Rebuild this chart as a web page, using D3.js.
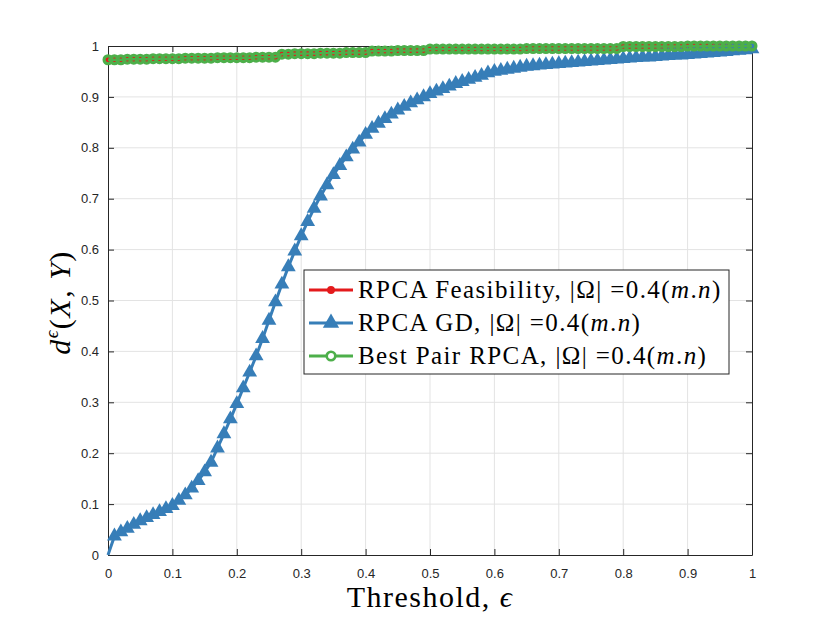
<!DOCTYPE html>
<html>
<head>
<meta charset="utf-8">
<script src="https://cdn.jsdelivr.net/npm/d3@7"></script>
<style>
  body { margin: 0; background: #fff; }
  svg { display: block; }
</style>
</head>
<body>
<div id="chart"></div>
<script>
// threshold values (x)
const thresholds = [
  0.00, 0.01, 0.02, 0.03, 0.04, 0.05, 0.06, 0.07, 0.08, 0.09,
  0.10, 0.11, 0.12, 0.13, 0.14, 0.15, 0.16, 0.17, 0.18, 0.19,
  0.20, 0.21, 0.22, 0.23, 0.24, 0.25, 0.26, 0.27, 0.28, 0.29,
  0.30, 0.31, 0.32, 0.33, 0.34, 0.35, 0.36, 0.37, 0.38, 0.39,
  0.40, 0.41, 0.42, 0.43, 0.44, 0.45, 0.46, 0.47, 0.48, 0.49,
  0.50, 0.51, 0.52, 0.53, 0.54, 0.55, 0.56, 0.57, 0.58, 0.59,
  0.60, 0.61, 0.62, 0.63, 0.64, 0.65, 0.66, 0.67, 0.68, 0.69,
  0.70, 0.71, 0.72, 0.73, 0.74, 0.75, 0.76, 0.77, 0.78, 0.79,
  0.80, 0.81, 0.82, 0.83, 0.84, 0.85, 0.86, 0.87, 0.88, 0.89,
  0.90, 0.91, 0.92, 0.93, 0.94, 0.95, 0.96, 0.97, 0.98, 0.99,
  1.00
];

const feasibility = [
  0.973, 0.973, 0.973, 0.974, 0.974, 0.974, 0.974, 0.975, 0.975, 0.975,
  0.975, 0.975, 0.976, 0.976, 0.976, 0.976, 0.976, 0.977, 0.977, 0.977,
  0.977, 0.977, 0.977, 0.978, 0.978, 0.978, 0.978, 0.984, 0.984, 0.985,
  0.985, 0.985, 0.985, 0.986, 0.986, 0.986, 0.986, 0.987, 0.987, 0.987,
  0.987, 0.990, 0.990, 0.990, 0.990, 0.991, 0.991, 0.991, 0.991, 0.991,
  0.994, 0.994, 0.994, 0.994, 0.994, 0.994, 0.994, 0.994, 0.994, 0.994,
  0.994, 0.994, 0.994, 0.994, 0.994, 0.995, 0.995, 0.995, 0.995, 0.995,
  0.995, 0.995, 0.995, 0.995, 0.995, 0.995, 0.995, 0.995, 0.995, 0.995,
  0.999, 0.999, 0.999, 0.999, 0.999, 0.999, 0.999, 0.999, 0.999, 0.999,
  1.000, 1.000, 1.000, 1.000, 1.000, 1.000, 1.000, 1.000, 1.000, 1.000,
  1.000
];

const gd = [
  0.000, 0.037, 0.045, 0.052, 0.060, 0.067, 0.073, 0.079, 0.085, 0.091,
  0.097, 0.107, 0.118, 0.131, 0.146, 0.163, 0.182, 0.210, 0.238, 0.267,
  0.297, 0.328, 0.359, 0.391, 0.425, 0.461, 0.497, 0.532, 0.566, 0.597,
  0.627, 0.655, 0.681, 0.705, 0.727, 0.747, 0.765, 0.782, 0.797, 0.811,
  0.826, 0.838, 0.848, 0.857, 0.866, 0.874, 0.881, 0.888, 0.894, 0.900,
  0.906, 0.911, 0.916, 0.921, 0.926, 0.930, 0.934, 0.938, 0.942, 0.947,
  0.950, 0.952, 0.954, 0.956, 0.958, 0.960, 0.961, 0.962, 0.963, 0.964,
  0.965, 0.966, 0.967, 0.968, 0.969, 0.970, 0.971, 0.972, 0.973, 0.974,
  0.975, 0.976, 0.977, 0.978, 0.978, 0.979, 0.980, 0.981, 0.982, 0.982,
  0.983, 0.984, 0.985, 0.986, 0.987, 0.988, 0.989, 0.990, 0.991, 0.992,
  0.994
];

const bestPair = [
  0.973, 0.973, 0.973, 0.974, 0.974, 0.974, 0.974, 0.975, 0.975, 0.975,
  0.975, 0.975, 0.976, 0.976, 0.976, 0.976, 0.976, 0.977, 0.977, 0.977,
  0.977, 0.977, 0.977, 0.978, 0.978, 0.978, 0.978, 0.984, 0.984, 0.985,
  0.985, 0.985, 0.985, 0.986, 0.986, 0.986, 0.986, 0.987, 0.987, 0.987,
  0.987, 0.990, 0.990, 0.990, 0.990, 0.991, 0.991, 0.991, 0.991, 0.991,
  0.994, 0.994, 0.994, 0.994, 0.994, 0.994, 0.994, 0.994, 0.994, 0.994,
  0.994, 0.994, 0.994, 0.994, 0.994, 0.995, 0.995, 0.995, 0.995, 0.995,
  0.995, 0.995, 0.995, 0.995, 0.995, 0.995, 0.995, 0.995, 0.995, 0.995,
  0.999, 0.999, 0.999, 0.999, 0.999, 0.999, 0.999, 0.999, 0.999, 0.999,
  1.000, 1.000, 1.000, 1.000, 1.000, 1.000, 1.000, 1.000, 1.000, 1.000,
  1.000
];

const xTicks = [0, 0.1, 0.2, 0.3, 0.4, 0.5, 0.6, 0.7, 0.8, 0.9, 1];
const yTicks = [0, 0.1, 0.2, 0.3, 0.4, 0.5, 0.6, 0.7, 0.8, 0.9, 1];
const tickLabels = ["0", "0.1", "0.2", "0.3", "0.4", "0.5", "0.6", "0.7", "0.8", "0.9", "1"];

const SERIES = [
  { name: "RPCA Feasibility", key: "feas", values: feasibility, color: "#e41a1c", marker: "dot" },
  { name: "RPCA GD", key: "gd", values: gd, color: "#377eb8", marker: "triangle" },
  { name: "Best Pair RPCA", key: "best", values: bestPair, color: "#4daf4a", marker: "circle" }
];

const width = 830, height = 623;
const margin = { top: 46, right: 78, bottom: 68, left: 108 };
const innerW = width - margin.left - margin.right;
const innerH = height - margin.top - margin.bottom;
const axisColor = "#262626";
const serif = "'Liberation Serif', 'DejaVu Serif', serif";
const sans = "'Liberation Sans', Arial, sans-serif";

const svg = d3.select("#chart")
  .append("svg")
  .attr("width", width)
  .attr("height", height);

const g = svg.append("g")
  .attr("transform", `translate(${margin.left},${margin.top})`);

const x = d3.scaleLinear().domain([0, 1]).range([0, innerW]);
const y = d3.scaleLinear().domain([0, 1]).range([innerH, 0]);

// grid
g.append("g")
  .selectAll("line")
  .data(xTicks.slice(1, -1))
  .enter().append("line")
  .attr("x1", d => x(d)).attr("x2", d => x(d))
  .attr("y1", 0).attr("y2", innerH)
  .attr("stroke", "#e3e3e3").attr("stroke-width", 1);

g.append("g")
  .selectAll("line")
  .data(yTicks.slice(1, -1))
  .enter().append("line")
  .attr("y1", d => y(d)).attr("y2", d => y(d))
  .attr("x1", 0).attr("x2", innerW)
  .attr("stroke", "#e3e3e3").attr("stroke-width", 1);

// axes (ticks inward, box on)
const fmt = (d, i) => tickLabels[i];
const styleAxis = sel => {
  sel.select(".domain").attr("stroke", axisColor);
  sel.selectAll(".tick line").attr("stroke", axisColor);
  sel.selectAll(".tick text")
    .attr("fill", axisColor)
    .style("font-family", sans)
    .style("font-size", "13px");
};

g.append("g")
  .attr("transform", `translate(0,${innerH})`)
  .call(d3.axisBottom(x).tickValues(xTicks).tickFormat(fmt).tickSizeInner(-6).tickSizeOuter(0).tickPadding(14))
  .call(styleAxis);

g.append("g")
  .call(d3.axisTop(x).tickValues(xTicks).tickFormat("").tickSizeInner(-6).tickSizeOuter(0))
  .call(styleAxis);

g.append("g")
  .call(d3.axisLeft(y).tickValues(yTicks).tickFormat(fmt).tickSizeInner(-6).tickSizeOuter(0).tickPadding(9))
  .call(styleAxis);

g.append("g")
  .attr("transform", `translate(${innerW},0)`)
  .call(d3.axisRight(y).tickValues(yTicks).tickFormat("").tickSizeInner(-6).tickSizeOuter(0))
  .call(styleAxis);

// series
const line = d3.line()
  .x(d => x(d.x))
  .y(d => y(d.y));

const triangle = d3.symbol().type(d3.symbolTriangle).size(95);

function drawMarkers(sel, s, pts, scale) {
  if (s.marker === "dot") {
    sel.selectAll("circle").data(pts).enter().append("circle")
      .attr("cx", d => d.px).attr("cy", d => d.py)
      .attr("r", 3.6 * scale).attr("fill", s.color);
  } else if (s.marker === "triangle") {
    sel.selectAll("path").data(pts).enter().append("path")
      .attr("transform", d => `translate(${d.px},${d.py}) scale(${scale})`)
      .attr("d", triangle).attr("fill", s.color);
  } else {
    sel.selectAll("circle").data(pts).enter().append("circle")
      .attr("cx", d => d.px).attr("cy", d => d.py)
      .attr("r", 3.9 * scale).attr("fill", "none")
      .attr("stroke", s.color).attr("stroke-width", 3.2);
  }
}

SERIES.forEach(s => {
  const pts = thresholds.map((t, i) => ({ x: t, y: s.values[i] }));
  const grp = g.append("g").attr("class", "series-" + s.key);
  grp.append("path")
    .attr("d", line(pts))
    .attr("fill", "none")
    .attr("stroke", s.color)
    .attr("stroke-width", s.marker === "circle" ? 2.4 : 3);
  drawMarkers(grp, s, pts.map(p => ({ px: x(p.x), py: y(p.y) })), 1);
});

// legend
const legX = 304, legY = 270, legW = 425, legH = 104, rowH = 33;
const legend = svg.append("g").attr("transform", `translate(${legX},${legY})`);
legend.append("rect")
  .attr("width", legW).attr("height", legH)
  .attr("fill", "#fff").attr("stroke", axisColor).attr("stroke-width", 1);

const items = legend.selectAll(".legend-item")
  .data(SERIES)
  .enter().append("g")
  .attr("class", "legend-item")
  .attr("transform", (d, i) => `translate(0,${20 + i * rowH})`);

items.append("line")
  .attr("x1", 5).attr("x2", 49)
  .attr("stroke", d => d.color).attr("stroke-width", 3);

items.each(function (s) {
  const sel = d3.select(this).append("g");
  drawMarkers(sel, s, [{ px: 27, py: 0 }], s.marker === "triangle" ? 1.1 : 1.1);
  if (s.marker === "circle") sel.selectAll("circle").attr("fill", "#fff").attr("stroke-width", 2.6);
});

const labels = items.append("text")
  .attr("x", 54).attr("y", 8)
  .style("font-family", serif)
  .style("font-size", "25px")
  .style("letter-spacing", "1.4px")
  .attr("fill", "#000");

labels.append("tspan").text(d => d.name + ", |Ω| =0.4(");
labels.append("tspan").style("font-style", "italic").text("m");
labels.append("tspan").text(".");
labels.append("tspan").style("font-style", "italic").text("n");
labels.append("tspan").text(")");

// x label
const xl = svg.append("text")
  .attr("x", margin.left + innerW / 2)
  .attr("y", 607)
  .attr("text-anchor", "middle")
  .style("font-family", serif)
  .style("font-size", "30px")
  .style("letter-spacing", "1.5px")
  .attr("fill", "#000");
xl.append("tspan").text("Threshold, ");
xl.append("tspan").style("font-style", "italic").text("ϵ");

// y label
const yl = svg.append("text")
  .attr("transform", `translate(70,${margin.top + innerH / 2 + 2}) rotate(-90)`)
  .attr("text-anchor", "middle")
  .style("font-family", serif)
  .style("font-size", "30px")
  .style("letter-spacing", "1.5px")
  .attr("fill", "#000");
yl.append("tspan").style("font-style", "italic").text("d");
yl.append("tspan").style("font-style", "italic").style("font-size", "19px").attr("dy", -12).text("ϵ");
yl.append("tspan").attr("dy", 12).text("(");
yl.append("tspan").style("font-style", "italic").text("X");
yl.append("tspan").text(", ");
yl.append("tspan").style("font-style", "italic").text("Y");
yl.append("tspan").text(")");
</script>
</body>
</html>
